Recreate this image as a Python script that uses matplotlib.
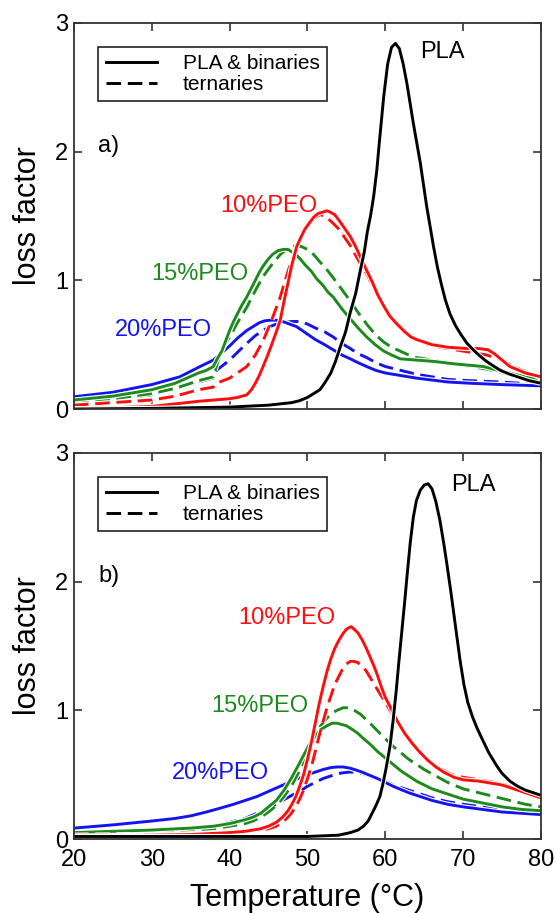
import matplotlib
matplotlib.use("Agg")
import matplotlib.pyplot as plt
import matplotlib.patheffects as pe
from matplotlib.lines import Line2D

plt.rcParams['font.family'] = ['Liberation Sans', 'DejaVu Sans']

# ---- panel a) data (temperature in C, loss factor) ----
t_pla_a = [20, 30, 40, 45, 48, 49, 50, 51.6, 52.3, 53, 53.6, 54.2, 54.9, 55.5, 56.2, 56.8, 57.3, 57.7, 58.1, 58.5,
           58.9, 59.2, 59.8, 60.3, 60.8, 61.3, 61.8, 62.3, 62.8, 63.6, 64.5, 65.3, 66.2, 66.7, 67.2, 67.7, 68.3, 69,
           69.7, 70.5, 71.3, 72, 73, 74, 74.8, 76, 77, 78.5, 80]
v_pla_a = [0.0, 0.005, 0.015, 0.03, 0.05, 0.065, 0.09, 0.15, 0.21, 0.28, 0.37, 0.48, 0.6, 0.75, 0.9, 1.08, 1.22,
           1.38, 1.5, 1.65, 1.85, 2.05, 2.43, 2.68, 2.81, 2.84, 2.8, 2.68, 2.52, 2.22, 1.91, 1.58, 1.26, 1.1, 0.97,
           0.85, 0.74, 0.65, 0.58, 0.51, 0.46, 0.42, 0.37, 0.33, 0.3, 0.27, 0.25, 0.22, 0.2]

t_10_bin_a = [20, 25, 30, 36, 40, 41, 42.2, 42.8, 43.3, 43.8, 44.3, 44.9, 45.4, 46, 46.5, 47, 47.5, 48, 48.6, 49.2,
              49.7, 50.3, 50.8, 51.4, 52, 52.5, 52.9, 53.5, 54, 54.7, 55.5, 56.2, 56.8, 57.5, 58.3, 59, 59.8, 60.6,
              61.5, 62.5, 63.3, 64, 66, 68, 70.5, 72, 73.2, 74, 75, 76, 78, 80]
v_10_bin_a = [0.0, 0.01, 0.02, 0.06, 0.08, 0.09, 0.11, 0.15, 0.2, 0.26, 0.33, 0.42, 0.5, 0.6, 0.69, 0.84, 0.98,
              1.12, 1.26, 1.34, 1.4, 1.45, 1.49, 1.52, 1.53, 1.54, 1.53, 1.51, 1.47, 1.41, 1.34, 1.26, 1.18, 1.09,
              0.99, 0.89, 0.8, 0.72, 0.66, 0.6, 0.56, 0.54, 0.5, 0.48, 0.47, 0.47, 0.46, 0.43, 0.38, 0.33, 0.28,
              0.25]
t_10_ter_a = [20, 25, 30, 33, 36, 37.9, 38.3, 40, 41, 42.2, 43.3, 44.3, 45.4, 46.5, 47.5, 48.6, 49.3, 50, 50.8,
              51.6, 52.2, 53, 54, 54.8, 55.5, 56.5, 57.6, 58.7, 59.8, 61, 62, 63, 64, 65.5, 67, 70, 73, 75, 76.5, 78,
              80]
v_10_ter_a = [0.03, 0.05, 0.07, 0.1, 0.15, 0.17, 0.2, 0.24, 0.28, 0.33, 0.42, 0.53, 0.69, 0.87, 1.07, 1.26, 1.36,
              1.43, 1.48, 1.51, 1.5, 1.46, 1.4, 1.33, 1.27, 1.16, 1.05, 0.92, 0.8, 0.7, 0.64, 0.58, 0.54, 0.5, 0.48,
              0.45, 0.42, 0.38, 0.33, 0.29, 0.24]

t_15_bin_a = [20, 25, 30, 33, 36, 37, 37.9, 38.5, 39, 39.5, 40, 40.5, 41, 41.6, 42.2, 42.8, 43.3, 43.8, 44.3,
              44.9, 45.5, 46.2, 46.9, 47.5, 48, 48.5, 49, 49.7, 50.5, 51.2, 52, 52.6, 53.3, 54.4, 55.5, 56.5, 57.6,
              58.7, 59.8, 60.8, 61.9, 63, 64, 66.2, 69, 72.6, 74.5, 76, 78, 80]
v_15_bin_a = [0.07, 0.1, 0.15, 0.2, 0.28, 0.3, 0.33, 0.4, 0.45, 0.53, 0.61, 0.68, 0.74, 0.81, 0.87, 0.94, 1.0,
              1.06, 1.11, 1.16, 1.2, 1.23, 1.24, 1.24, 1.22, 1.2, 1.17, 1.12, 1.07, 1.01, 0.96, 0.91, 0.87, 0.78,
              0.7, 0.63, 0.56, 0.5, 0.45, 0.42, 0.39, 0.385, 0.38, 0.37, 0.35, 0.33, 0.3, 0.28, 0.25, 0.23]
t_15_ter_a = [20, 25, 30, 33, 36, 37.9, 38.3, 38.8, 39.4, 40, 41, 42.2, 43.3, 44.3, 45.4, 46.5, 47.5, 48.6, 49.3,
              50, 50.8, 51.5, 52.4, 53.3, 54.4, 55.5, 56.5, 57.6, 58.7, 59.8, 60.8, 61.9, 63, 64, 67, 70, 73, 76, 80]
v_15_ter_a = [0.06, 0.08, 0.12, 0.16, 0.22, 0.25, 0.33, 0.43, 0.5, 0.56, 0.67, 0.79, 0.92, 1.03, 1.12, 1.2, 1.25,
              1.27, 1.26, 1.24, 1.2, 1.15, 1.09, 1.02, 0.93, 0.84, 0.75, 0.66, 0.58, 0.52, 0.48, 0.45, 0.42, 0.4,
              0.37, 0.34, 0.31, 0.27, 0.23]

t_20_bin_a = [20, 25, 30, 33.6, 36.2, 37.9, 40, 41, 42.2, 43, 43.8, 44.5, 45.2, 46, 46.8, 47.7, 48.6, 49.8, 51,
              52.2, 53.3, 54.4, 55.5, 56.5, 57.6, 58.8, 60, 62, 64, 66, 68, 71, 74.8, 80]
v_20_bin_a = [0.095, 0.13, 0.19, 0.25, 0.33, 0.38, 0.49, 0.55, 0.61, 0.64, 0.67, 0.685, 0.69, 0.69, 0.68, 0.66,
              0.64, 0.59, 0.54, 0.5, 0.46, 0.42, 0.39, 0.36, 0.33, 0.3, 0.28, 0.26, 0.24, 0.225, 0.21, 0.2, 0.19,
              0.18]
t_20_ter_a = [20, 25, 30, 33.6, 36, 37.9, 38.3, 40, 41, 42.2, 43.3, 44.3, 45.2, 46, 46.7, 47.3, 48, 49, 50, 51,
              52.2, 53.3, 54.4, 55.5, 56.5, 57.6, 58.8, 60, 62, 64, 66, 68, 71, 74.8, 80]
v_20_ter_a = [0.06, 0.08, 0.11, 0.17, 0.21, 0.24, 0.3, 0.38, 0.44, 0.51, 0.57, 0.61, 0.64, 0.66, 0.67, 0.675, 0.68,
              0.68, 0.66, 0.63, 0.6, 0.56, 0.51, 0.47, 0.43, 0.4, 0.36, 0.33, 0.3, 0.27, 0.25, 0.23, 0.22, 0.21, 0.19]

# ---- panel b) data ----
t_pla_b = [20, 30, 40, 50, 54, 55.5, 56.5, 57.2, 57.8, 58.3, 58.8, 59.3, 59.7, 60.1, 60.6, 61, 61.4, 61.7, 62.1,
           62.5, 62.8, 63.2, 63.6, 64, 64.5, 65, 65.5, 66, 66.5, 67, 67.5, 67.9, 68.4, 68.8, 69.2, 69.6, 70.1, 70.6,
           71.2, 71.8, 72.5, 73.3, 74.3, 75, 76, 77, 78, 79, 80]
v_pla_b = [0.02, 0.02, 0.02, 0.02, 0.03, 0.05, 0.07, 0.1, 0.14, 0.2, 0.26, 0.33, 0.43, 0.55, 0.72, 0.92, 1.15,
           1.35, 1.6, 1.85, 2.05, 2.3, 2.5, 2.63, 2.71, 2.75, 2.76, 2.72, 2.62, 2.48, 2.3, 2.14, 1.93, 1.75, 1.57,
           1.39, 1.2, 1.06, 0.95, 0.86, 0.77, 0.67, 0.57, 0.51, 0.45, 0.41, 0.38, 0.36, 0.34]

t_10_bin_b = [20, 30, 35, 40, 42, 44, 45, 46, 46.8, 47.5, 48, 48.5, 49, 49.5, 50, 50.5, 51, 51.5, 52, 52.5, 53,
              53.5, 54, 54.5, 55, 55.6, 56, 56.5, 57, 57.5, 58, 58.5, 59, 59.5, 60, 60.6, 61.5, 62.5, 63.5, 64.5,
              65.5, 66.5, 67.5, 68.8, 70, 72, 74, 75, 76, 78, 80]
v_10_bin_b = [0.02, 0.03, 0.035, 0.05, 0.06, 0.08, 0.1, 0.13, 0.17, 0.22, 0.27, 0.33, 0.41, 0.5, 0.62, 0.75, 0.9,
              1.05, 1.18, 1.3, 1.4, 1.48, 1.54, 1.59, 1.63, 1.65, 1.63, 1.6, 1.55, 1.49, 1.42, 1.35, 1.27, 1.18, 1.1,
              1.03, 0.92, 0.82, 0.74, 0.67, 0.61, 0.56, 0.52, 0.48, 0.46, 0.45, 0.43, 0.42, 0.4, 0.36, 0.32]
t_10_ter_b = [20, 30, 35, 40, 42, 44, 45, 46, 47, 47.8, 48.5, 49, 49.5, 50, 50.5, 51, 51.5, 52, 52.5, 53, 53.5, 54,
              54.5, 55, 55.5, 56, 56.5, 57, 57.5, 58.2, 59, 59.8, 60.6, 61.5, 62.5, 63.5, 64.5, 65.5, 67, 68.5, 70,
              73, 75, 76, 78, 80]
v_10_ter_b = [0.03, 0.035, 0.04, 0.05, 0.06, 0.07, 0.08, 0.1, 0.14, 0.19, 0.25, 0.31, 0.38, 0.47, 0.56, 0.68, 0.8,
              0.91, 1.02, 1.11, 1.2, 1.26, 1.32, 1.36, 1.38, 1.38, 1.37, 1.34, 1.31, 1.24, 1.16, 1.08, 1.0, 0.91,
              0.82, 0.74, 0.67, 0.61, 0.55, 0.5, 0.48, 0.45, 0.43, 0.41, 0.37, 0.33]

t_15_bin_b = [20, 25, 30, 35, 38, 40, 42, 43, 44, 45, 46, 47, 48, 48.8, 49.5, 50.2, 51, 51.7, 52.5, 53.2, 53.8,
              54.4, 55, 55.8, 56.5, 57.2, 58, 59, 60, 61, 62, 63, 64, 65, 66, 68, 70, 72.5, 75, 77.5, 80]
v_15_bin_b = [0.05, 0.06, 0.07, 0.085, 0.1, 0.12, 0.15, 0.17, 0.2, 0.25, 0.3, 0.38, 0.48, 0.57, 0.65, 0.73, 0.8,
              0.85, 0.88, 0.9, 0.9, 0.89, 0.88, 0.85, 0.82, 0.78, 0.74, 0.68, 0.63, 0.58, 0.53, 0.49, 0.45, 0.42,
              0.39, 0.35, 0.31, 0.28, 0.25, 0.23, 0.22]
t_15_ter_b = [20, 25, 30, 35, 38, 40, 42, 43, 44, 45, 46, 47, 48, 48.8, 49.5, 50.2, 51, 51.7, 52.5, 53.2, 53.8,
              54.6, 55.3, 56, 56.8, 57.5, 58.2, 59, 60, 61, 62, 63, 64, 65, 66.5, 68, 70, 72, 74, 76, 78, 80]
v_15_ter_b = [0.04, 0.05, 0.06, 0.07, 0.08, 0.1, 0.12, 0.14, 0.17, 0.21, 0.26, 0.33, 0.42, 0.51, 0.6, 0.7, 0.8,
              0.88, 0.94, 0.98, 1.0, 1.02, 1.02, 1.0, 0.97, 0.93, 0.89, 0.84, 0.78, 0.72, 0.67, 0.62, 0.58, 0.54,
              0.49, 0.44, 0.39, 0.36, 0.33, 0.3, 0.27, 0.25]

t_20_bin_b = [20, 25, 30, 33, 35, 37, 38.8, 40.5, 42, 43.5, 45, 46.5, 48, 49, 50, 51, 52, 53, 53.8, 54.6, 55.5,
              56.3, 57, 58, 59, 60, 61, 62, 63, 64.5, 66, 68, 70, 72.5, 75, 77.5, 80]
v_20_bin_b = [0.085, 0.11, 0.14, 0.16, 0.18, 0.21, 0.24, 0.27, 0.3, 0.33, 0.37, 0.41, 0.45, 0.475, 0.5, 0.52, 0.54,
              0.555, 0.56, 0.56, 0.55, 0.535, 0.52, 0.495, 0.47, 0.44, 0.41, 0.385, 0.36, 0.33, 0.3, 0.27, 0.25,
              0.23, 0.21, 0.2, 0.19]
t_20_ter_b = [20, 25, 30, 35, 38, 40, 42, 43.5, 45, 46.5, 48, 49, 50, 51, 52, 53, 54, 55.3, 56, 57, 58, 59, 60, 61,
              62, 63, 64.5, 66, 68, 70, 72.5, 75, 77.5, 80]
v_20_ter_b = [0.04, 0.05, 0.06, 0.08, 0.1, 0.13, 0.16, 0.2, 0.24, 0.29, 0.34, 0.37, 0.41, 0.44, 0.47, 0.49, 0.51,
              0.52, 0.52, 0.51, 0.49, 0.47, 0.45, 0.42, 0.4, 0.38, 0.35, 0.32, 0.29, 0.27, 0.25, 0.23, 0.22, 0.21]

RED = '#ff0d0d'
GREEN = '#1c8a1c'
BLUE = '#1414f0'
LW = 2.1
DASH = (0, (5, 2.3))
halo = [pe.withStroke(linewidth=LW + 1.6, foreground='white')]

fig = plt.figure(figsize=(5.56, 9.13), dpi=100)
ax_a = fig.add_axes([0.133, 0.552, 0.840, 0.423])
ax_b = fig.add_axes([0.133, 0.081, 0.840, 0.423])


def draw_panel(ax, curves, labels, tag):
    # curves: list of (t, v, colour, style)
    for t, v, c, ls in curves:
        ax.plot(t, v, color=c, lw=LW, linestyle=ls, path_effects=halo, solid_joinstyle='round')
    for txt, x, y, c in labels:
        ax.text(x, y, txt, color=c, fontsize=17, va='center', ha='left')
    ax.text(23.1, 2.04, tag, fontsize=17, va='center', ha='left')

    ax.set_xlim(20, 80)
    ax.set_ylim(0, 3)
    ax.set_xticks([20, 30, 40, 50, 60, 70, 80])
    ax.set_yticks([0, 1, 2, 3])
    ax.tick_params(direction='in', top=True, right=True, length=6, width=1.1,
                   labelsize=17, color='#222222', pad=4)
    ax.tick_params(axis='x', pad=7)
    for s in ax.spines.values():
        s.set_linewidth(1.3)
        s.set_color('#333333')
    ax.set_ylabel('loss factor', fontsize=22, labelpad=9)

    handles = [Line2D([], [], color='black', lw=LW),
               Line2D([], [], color='black', lw=LW, linestyle=DASH)]
    leg = ax.legend(handles, ['PLA & binaries', 'ternaries'], loc='upper left',
                    bbox_to_anchor=(0.052, 0.938), borderaxespad=0, fontsize=15,
                    handlelength=2.45, handletextpad=1.25, labelspacing=0.1,
                    borderpad=0.35, fancybox=False, framealpha=1, edgecolor='#222222')
    leg.get_frame().set_linewidth(1.2)


draw_panel(ax_a,
           [(t_20_ter_a, v_20_ter_a, BLUE, DASH), (t_20_bin_a, v_20_bin_a, BLUE, '-'),
            (t_15_ter_a, v_15_ter_a, GREEN, DASH), (t_15_bin_a, v_15_bin_a, GREEN, '-'),
            (t_10_ter_a, v_10_ter_a, RED, DASH), (t_10_bin_a, v_10_bin_a, RED, '-'),
            (t_pla_a, v_pla_a, 'black', '-')],
           [('PLA', 64.5, 2.77, 'black'), ('10%PEO', 38.8, 1.58, RED),
            ('15%PEO', 29.9, 1.05, GREEN), ('20%PEO', 25.2, 0.61, BLUE)],
           'a)')
ax_a.tick_params(labelbottom=False)

draw_panel(ax_b,
           [(t_20_ter_b, v_20_ter_b, BLUE, DASH), (t_20_bin_b, v_20_bin_b, BLUE, '-'),
            (t_15_ter_b, v_15_ter_b, GREEN, DASH), (t_15_bin_b, v_15_bin_b, GREEN, '-'),
            (t_10_ter_b, v_10_ter_b, RED, DASH), (t_10_bin_b, v_10_bin_b, RED, '-'),
            (t_pla_b, v_pla_b, 'black', '-')],
           [('PLA', 68.4, 2.75, 'black'), ('10%PEO', 41.1, 1.72, RED),
            ('15%PEO', 37.7, 1.03, GREEN), ('20%PEO', 32.6, 0.51, BLUE)],
           'b)')
ax_b.set_xlabel('Temperature (°C)', fontsize=22, labelpad=9)

fig.savefig('out.png', dpi=100)
